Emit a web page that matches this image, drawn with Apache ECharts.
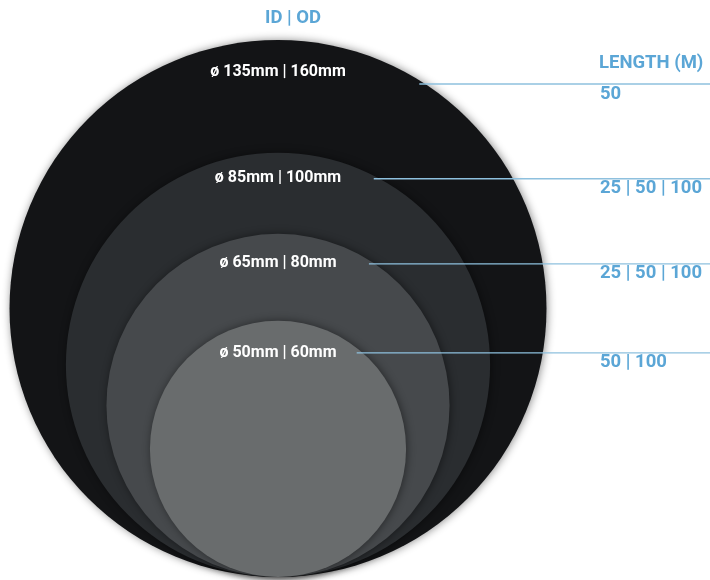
<!DOCTYPE html>
<html>
<head>
<meta charset="utf-8">
<script src="https://cdn.jsdelivr.net/npm/echarts@6/dist/echarts.min.js"></script>
<style>html,body{margin:0;padding:0;background:#fff}#c{width:710px;height:580px}</style>
</head>
<body>
<div id="c"></div>
<script>
// ---- data ----
const innerDiameters = [135, 85, 65, 50];          // ID (mm)
const outerDiameters = [160, 100, 80, 60];         // OD (mm)
const lengths = ['50', '25 | 50 | 100', '25 | 50 | 100', '50 | 100']; // available lengths (m)
const drawnSize = [100, 79, 63.9, 47.7];           // drawn diameter, % of largest ring
const headerIdOd = 'ID | OD';
const headerLength = 'LENGTH (M)';

// ---- styles ----
const fills = ['#131416', '#2a2d30', '#46494c', '#696c6d'];
const labelOffset = [32, 25, 29, 32];
const leaderOffset = [44, 26, 30, 32];
const blue = '#5ba6d6';
const lineBlue = '#8ec0de';
const FONT = 'Roboto, "Noto Sans", sans-serif';

const chart = echarts.init(document.getElementById('c'), null, {renderer: 'canvas'});
const circleData = drawnSize.map((d, i) => [i, d]);

chart.setOption({
  animation: false,
  grid: {left: 9.5, top: 40, width: 537, height: 537},
  xAxis: {type: 'value', min: -50, max: 50, show: false},
  yAxis: {type: 'value', min: 0, max: 100, show: false},
  graphic: [
    {type: 'text', x: 293, y: 18, style: {text: headerIdOd, fill: blue, font: 'bold 18.5px ' + FONT, textAlign: 'center', textVerticalAlign: 'middle'}},
    {type: 'text', x: 599, y: 63, style: {text: headerLength, fill: blue, font: 'bold 18.5px ' + FONT, textAlign: 'left', textVerticalAlign: 'middle'}}
  ],
  series: [
    {
      type: 'custom',
      data: circleData,
      z: 1,
      renderItem: function (params, api) {
        const i = api.value(0), d = api.value(1);
        const c = api.coord([0, d / 2]);
        const r = api.size([d / 2, 0])[0];
        return {
          type: 'circle',
          shape: {cx: c[0], cy: c[1], r: r},
          style: {fill: fills[i], shadowBlur: 8, shadowColor: 'rgba(0,0,0,0.45)', shadowOffsetX: 1, shadowOffsetY: 0}
        };
      }
    },
    {
      type: 'custom',
      data: circleData,
      z: 5,
      renderItem: function (params, api) {
        const i = api.value(0), d = api.value(1);
        const c = api.coord([0, d / 2]);
        const r = api.size([d / 2, 0])[0];
        const top = api.coord([0, d])[1];
        const ly = top + leaderOffset[i];
        const dx = Math.sqrt(Math.max(0, r * r - (ly - c[1]) * (ly - c[1])));
        const x0 = c[0] + dx - 6;
        return {
          type: 'group',
          children: [
            {type: 'line', shape: {x1: x0, y1: ly, x2: 712, y2: ly}, style: {stroke: lineBlue, lineWidth: 1.3}},
            {type: 'text', x: c[0], y: top + labelOffset[i], style: {
              text: 'ø ' + innerDiameters[i] + 'mm | ' + outerDiameters[i] + 'mm',
              fill: '#ffffff', font: 'bold 16px ' + FONT, textAlign: 'center', textVerticalAlign: 'middle'}},
            {type: 'text', x: 600, y: ly + 10, style: {
              text: lengths[i], fill: blue, font: 'bold 18.5px ' + FONT, textAlign: 'left', textVerticalAlign: 'middle'}}
          ]
        };
      }
    }
  ]
});
</script>
</body>
</html>
